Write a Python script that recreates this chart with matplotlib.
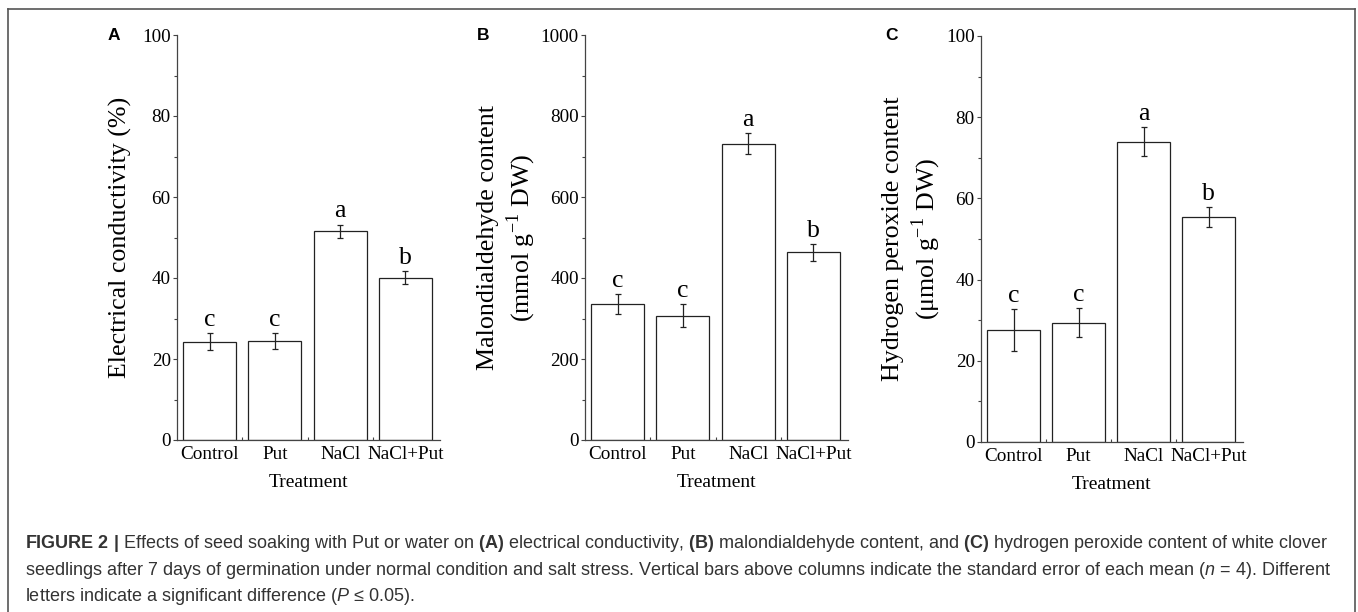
import matplotlib
matplotlib.use("Agg")
import matplotlib.pyplot as plt
from matplotlib.lines import Line2D
from matplotlib.ticker import MultipleLocator, FixedLocator
import numpy as np

plt.rcParams['font.family'] = ['Liberation Serif', 'DejaVu Serif']
plt.rcParams['mathtext.fontset'] = 'custom'
plt.rcParams['mathtext.rm'] = 'Liberation Serif'
plt.rcParams['mathtext.it'] = 'Liberation Sans:italic'
plt.rcParams['mathtext.bf'] = 'Liberation Sans:bold'

# ---------------- data ----------------
categories = ["Control", "Put", "NaCl", "NaCl+Put"]

ec_values = [24.2, 24.4, 51.5, 40.1]
ec_errors = [2.1, 1.9, 1.7, 1.65]
ec_letters = ["c", "c", "a", "b"]

mda_values = [336, 307, 731, 463]
mda_errors = [24, 28, 26, 20]
mda_letters = ["c", "c", "a", "b"]

h2o2_values = [27.6, 29.4, 74.0, 55.4]
h2o2_errors = [5.1, 3.6, 3.65, 2.5]
h2o2_letters = ["c", "c", "a", "b"]

panel_labels = ["A", "B", "C"]
ylabels = ["Electrical conductivity (%)",
           "Malondialdehyde content\n(mmol g$^{-1}$ DW)",
           "Hydrogen peroxide content\n(\u03bcmol g$^{-1}$ DW)"]
ymax = [100, 1000, 100]
ystep = [20, 200, 20]
xlabel = "Treatment"

caption_lines = [
    r"$\bf{FIGURE\ 2\ |}$ Effects of seed soaking with Put or water on $\bf{(A)}$ electrical conductivity, $\bf{(B)}$ malondialdehyde content, and $\bf{(C)}$ hydrogen peroxide content of white clover",
    r"seedlings after 7 days of germination under normal condition and salt stress. Vertical bars above columns indicate the standard error of each mean ($\it{n}$ = 4). Different",
    r"letters indicate a significant difference ($\it{P}$ " + "\u2264" + r" 0.05).",
]

# ---------------- layout ----------------
W, H = 1358, 612
fig = plt.figure(figsize=(W / 100, H / 100), dpi=100)

# axes boxes in pixels: left, right, top, bottom
boxes = [(177, 440, 35, 440), (585, 848, 35, 440), (981, 1243, 36, 442)]
ylabel_x = [120, 507.5, 912.5]
panel_lab_x = [114, 483, 892]

values_all = [ec_values, mda_values, h2o2_values]
errors_all = [ec_errors, mda_errors, h2o2_errors]
letters_all = [ec_letters, mda_letters, h2o2_letters]

spine_col = "#444444"
x = np.arange(len(categories))

for i in range(3):
    l, r, t, b = boxes[i]
    ax = fig.add_axes([l / W, (H - b) / H, (r - l) / W, (b - t) / H])
    ax.bar(x, values_all[i], width=0.81, color="white", edgecolor="#222222",
           linewidth=0.9, zorder=2)
    ax.errorbar(x, values_all[i], yerr=errors_all[i], fmt="none",
                ecolor="#222222", elinewidth=0.9, capsize=2.2, capthick=0.9, zorder=3)
    for xi, v, e, let in zip(x, values_all[i], errors_all[i], letters_all[i]):
        ax.annotate(let, (xi, v + e), xytext=(0, 1.5), textcoords="offset points",
                    ha="center", va="bottom", fontsize=18.5)
    ax.set_xlim(-0.5, 3.53)
    ax.set_ylim(0, ymax[i])
    ax.yaxis.set_major_locator(MultipleLocator(ystep[i]))
    ax.yaxis.set_minor_locator(MultipleLocator(ystep[i] / 2))
    ax.set_xticks(x)
    ax.set_xticklabels(categories, fontsize=13.8)
    ax.xaxis.set_minor_locator(FixedLocator([0.5, 1.5, 2.5]))
    ax.tick_params(axis="x", which="major", length=0, pad=4)
    ax.tick_params(axis="x", which="minor", direction="in", length=2.5, width=0.8,
                   color=spine_col)
    ax.tick_params(axis="y", which="major", direction="out", length=3, width=0.8,
                   color=spine_col, labelsize=13.8, pad=1.5)
    ax.tick_params(axis="y", which="minor", direction="out", length=2, width=0.8,
                   color=spine_col)
    for s in ["top", "right"]:
        ax.spines[s].set_visible(False)
    for s in ["left", "bottom"]:
        ax.spines[s].set_color(spine_col)
        ax.spines[s].set_linewidth(0.9)
    ax.set_xlabel(xlabel, fontsize=14, labelpad=8)
    ax.text((ylabel_x[i] - l) / (r - l), 0.5, ylabels[i], transform=ax.transAxes,
            rotation=90, ha="center", va="center", multialignment="center",
            fontsize=18.7, linespacing=1.25)
    fig.text(panel_lab_x[i] / W, 1 - 35 / H, panel_labels[i], fontsize=12.5,
             fontweight="bold", family=["Liberation Sans", "DejaVu Sans"],
             ha="center", va="center")

# frame around figure
frame_col = "#555555"
fig.add_artist(Line2D([8 / W, 8 / W], [0, 1 - 9 / H], transform=fig.transFigure,
                      color=frame_col, lw=1.2))
fig.add_artist(Line2D([8 / W, 1355 / W], [1 - 9 / H, 1 - 9 / H], transform=fig.transFigure,
                      color=frame_col, lw=1.2))
fig.add_artist(Line2D([1355 / W, 1355 / W], [0, 1 - 9 / H], transform=fig.transFigure,
                      color=frame_col, lw=1.2))

# caption
cap_y = [548, 575, 601]
caps = []
fs = 11.5
for yy, line in zip(cap_y, caption_lines):
    caps.append(fig.text(25 / W, 1 - yy / H, line, fontsize=fs, color="#333333",
                         family=["Liberation Sans", "DejaVu Sans"],
                         ha="left", va="baseline"))
fig.canvas.draw()
w0 = caps[0].get_window_extent().width
new_fs = fs * 1310 / w0
for c in caps:
    c.set_fontsize(new_fs)

fig.savefig("out.png", dpi=100)
